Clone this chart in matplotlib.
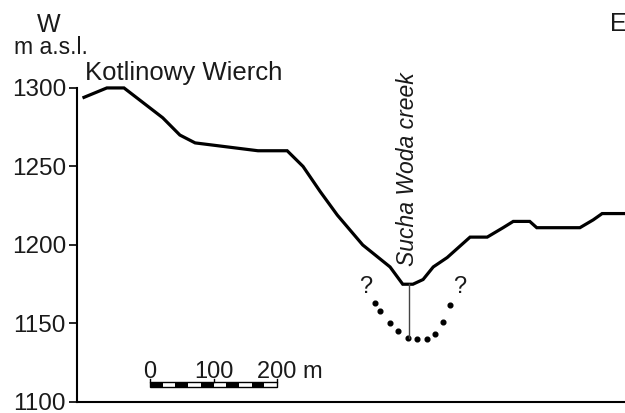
import numpy as np
import matplotlib.pyplot as plt
from matplotlib.patches import Rectangle

plt.rcParams['font.family'] = ['Liberation Sans', 'DejaVu Sans']

# ground profile, distance (m) vs elevation (m a.s.l.)
dist = [11, 47, 74, 135, 162, 186, 285, 331, 356, 383, 410, 450, 493, 513, 529,
        545, 561, 583, 619, 646, 671, 687, 713, 724, 792, 813, 827, 863]
elev = [1294, 1300, 1300, 1281, 1270, 1265, 1260, 1260, 1250, 1234, 1219, 1200, 1186,
        1175, 1175, 1178, 1186, 1192, 1205, 1205, 1211, 1215, 1215, 1211, 1211, 1216,
        1220, 1220]

# inferred bedrock channel (dotted)
buried_x = [469, 477, 493, 506, 521, 535, 551, 564, 576, 587]
buried_z = [1163, 1158, 1150, 1145, 1141, 1140, 1140, 1143, 1151, 1162]

creek_x = 523
creek_top, creek_bottom = 1175, 1141

yticks = [1100, 1150, 1200, 1250, 1300]
scale_ticks = [0, 100, 200]
scale_labels = ['0', '100', '200 m']

fig = plt.figure(figsize=(6.25, 4.13), dpi=100)
ax = fig.add_axes([77 / 625, 11 / 413, 548 / 625, 402 / 413])
ax.set_xlim(0, 863)
ax.set_ylim(1100, 1356)

txt = '#1a1a1a'
ax.plot(dist, elev, color='black', lw=2.3, solid_joinstyle='miter', clip_on=False)
ax.plot(buried_x, buried_z, ls='none', marker='o', ms=3.4, color='black')
ax.plot([creek_x, creek_x], [creek_top, creek_bottom], color='#444444', lw=1)

ax.text(454, 1173, '?', fontsize=17, ha='center', va='center', color=txt)
ax.text(603, 1173, '?', fontsize=17, ha='center', va='center', color=txt)
ax.text(521, 1186.5, 'Sucha Woda creek', rotation=90, style='italic', fontsize=16.5,
        ha='center', va='bottom', color=txt)
ax.text(12, 1305, 'Kotlinowy Wierch', fontsize=18.5, ha='left', va='baseline', color=txt)

# scale bar
x0 = 115
bar_lo, bar_hi = 1109.5, 1112.7
for i in range(10):
    ax.add_patch(Rectangle((x0 + i * 20, bar_lo), 20, bar_hi - bar_lo,
                           facecolor='black' if i % 2 == 0 else 'white', edgecolor='none'))
ax.add_patch(Rectangle((x0, bar_lo), 200, bar_hi - bar_lo, facecolor='none',
                       edgecolor='black', lw=1))
for t, lab in zip(scale_ticks, scale_labels):
    ax.plot([x0 + t, x0 + t], [bar_hi, bar_hi + 2], color='black', lw=1)
    if lab.endswith('m'):
        ax.text(x0 + t - 31, 1115, lab, fontsize=17, ha='left', va='baseline', color=txt)
    else:
        ax.text(x0 + t, 1115, lab, fontsize=17, ha='center', va='baseline', color=txt)

ax.spines['top'].set_visible(False)
ax.spines['right'].set_visible(False)
ax.spines['left'].set_bounds(1100, 1300)
ax.spines['left'].set_linewidth(1.5)
ax.spines['bottom'].set_linewidth(1.5)
ax.set_xticks([])
ax.set_yticks(yticks)
ax.tick_params(axis='y', length=5.5, width=1.2, pad=2.5, labelsize=17.5, labelcolor=txt)

fig.text(49 / 625, 1 - 25 / 413, 'W', fontsize=18, ha='center', va='center', color=txt)
fig.text(51 / 625, 1 - 48 / 413, 'm a.s.l.', fontsize=16.5, ha='center', va='center', color=txt)
fig.text(610 / 625, 1 - 24 / 413, 'E', fontsize=18, ha='left', va='center', color=txt)

fig.savefig('out.png', dpi=100)
